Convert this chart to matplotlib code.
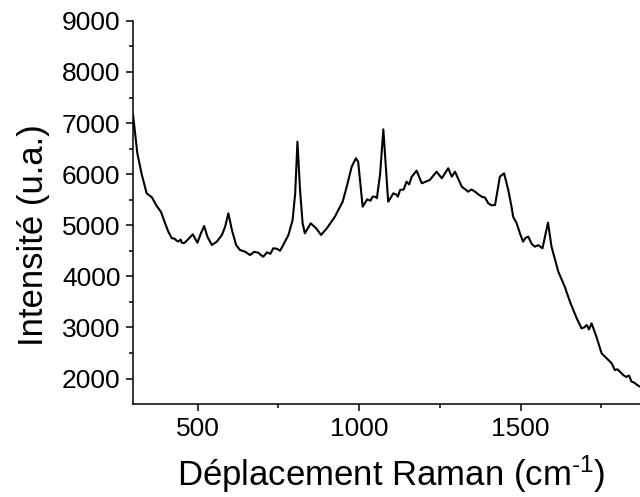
import matplotlib.pyplot as plt
import numpy as np

# Spectre Raman
deplacement = [300, 313, 327, 342, 358, 373, 386, 399, 409, 420, 428, 435, 440, 447,
               451, 458, 466, 485, 499, 510, 520, 530, 544, 559, 575, 585, 595, 606,
               619, 631, 647, 662, 675, 688, 695, 703, 715, 725, 734, 745, 755, 765,
               781, 794, 802, 809, 817, 825, 832, 850, 867, 882, 900, 925, 949, 963,
               977, 990, 997, 1011, 1025, 1035, 1042, 1049, 1055, 1065, 1075, 1090,
               1098, 1106, 1115, 1120, 1127, 1138, 1147, 1155, 1163, 1178, 1194, 1219,
               1240, 1256, 1276, 1287, 1297, 1318, 1338, 1348, 1359, 1370, 1380, 1390,
               1400, 1410, 1421, 1436, 1449, 1462, 1472, 1477, 1488, 1498, 1508, 1515,
               1524, 1535, 1545, 1555, 1568, 1585, 1596, 1617, 1637, 1653, 1674, 1689,
               1697, 1705, 1712, 1720, 1735, 1751, 1772, 1782, 1792, 1800, 1810, 1818,
               1828, 1836, 1844, 1852, 1860, 1870]
intensite = [7150, 6410, 5985, 5625, 5547, 5377, 5265, 5038, 4874, 4744, 4740, 4697,
             4680, 4720, 4658, 4650, 4697, 4822, 4658, 4842, 4985, 4776, 4613, 4678,
             4809, 4971, 5234, 4907, 4613, 4515, 4482, 4417, 4480, 4462, 4420, 4384,
             4470, 4440, 4549, 4540, 4500, 4613, 4809, 5103, 5625, 6636, 5690, 5038,
             4842, 5038, 4940, 4809, 4940, 5167, 5461, 5788, 6147, 6311, 6245, 5363,
             5507, 5480, 5560, 5559, 5530, 6000, 6877, 5461, 5540, 5625, 5600, 5560,
             5690, 5700, 5853, 5800, 5951, 6068, 5821, 5886, 6049, 5919, 6115, 5951,
             6049, 5755, 5657, 5700, 5657, 5600, 5559, 5540, 5430, 5390, 5396, 5951,
             6016, 5690, 5363, 5167, 5038, 4842, 4678, 4750, 4776, 4630, 4580, 4610,
             4549, 5051, 4580, 4090, 3797, 3503, 3178, 2982, 3000, 3047, 2960, 3080,
             2818, 2493, 2362, 2300, 2166, 2180, 2120, 2068, 2030, 2060, 1937, 1920,
             1880, 1839]

plt.rcParams['font.family'] = ['Liberation Sans', 'DejaVu Sans']
plt.rcParams['mathtext.fontset'] = 'custom'
plt.rcParams['mathtext.rm'] = 'Liberation Sans'
plt.rcParams['mathtext.it'] = 'Liberation Sans'

fig = plt.figure(figsize=(6.4, 4.97), dpi=100)
ax = fig.add_axes([0.208, 0.187, 0.792, 0.771])

ax.plot(deplacement, intensite, color='black', linewidth=1.5)

ax.set_xlim(300, 1870)
ax.set_ylim(1500, 9000)
ax.set_xticks([500, 1000, 1500])
ax.set_xticks([750, 1250, 1750], minor=True)
ax.set_yticks(np.arange(2000, 9001, 1000))
ax.set_yticks(np.arange(2500, 9000, 1000), minor=True)

for s in ['top', 'right']:
    ax.spines[s].set_visible(False)
for s in ['left', 'bottom']:
    ax.spines[s].set_linewidth(1.1)

ax.tick_params(which='major', direction='out', length=5, width=1.1,
               labelsize=19, pad=4)
ax.tick_params(which='minor', direction='out', length=3, width=1.1)

ax.set_xlabel(r'Déplacement Raman (cm$^{\text{-1}}$)', fontsize=25)
ax.set_ylabel('Intensité (u.a.)', fontsize=25)
ax.xaxis.set_label_coords(0.509, -0.13)
ax.yaxis.set_label_coords(-0.197, 0.441)
ax.yaxis.label.set_verticalalignment('center')

fig.savefig('out.png', dpi=100)
